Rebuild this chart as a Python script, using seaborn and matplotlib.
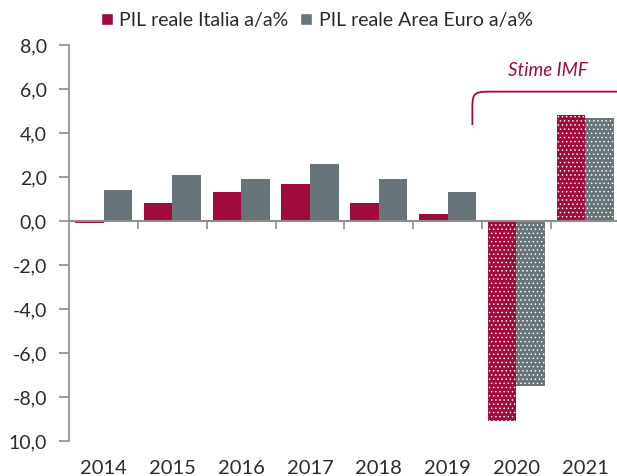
import matplotlib
matplotlib.use("Agg")
import matplotlib.pyplot as plt
from matplotlib.path import Path
from matplotlib.patches import PathPatch, Patch
import seaborn as sns
import pandas as pd

# ---- data ----
anni = ["2014", "2015", "2016", "2017", "2018", "2019", "2020", "2021"]
pil_italia = [-0.1, 0.8, 1.3, 1.7, 0.8, 0.3, -9.1, 4.8]
pil_euro = [1.4, 2.1, 1.9, 2.6, 1.9, 1.3, -7.5, 4.7]
serie = ["PIL reale Italia a/a%", "PIL reale Area Euro a/a%"]
anni_stima = ["2020", "2021"]
y_ticks = [8, 6, 4, 2, 0, -2, -4, -6, -8, -10]
y_tick_labels = ["8,0", "6,0", "4,0", "2,0", "0,0", "-2,0", "-4,0", "-6,0", "-8,0", "10,0"]
annotazione = "Stime IMF"

CRIMSON = "#A10A3C"
GRAY = "#67747A"
AXIS = "#8C8C8C"
TEXT = "#2B2B2B"

df = pd.DataFrame({
    "anno": anni * 2,
    "valore": pil_italia + pil_euro,
    "serie": [serie[0]] * len(anni) + [serie[1]] * len(anni),
})

sns.set_theme(style="white")
plt.rcParams["font.family"] = ["Lato", "DejaVu Sans"]
plt.rcParams["hatch.linewidth"] = 0.55

fig = plt.figure(figsize=(6.17, 4.76), dpi=100)
ax = fig.add_axes([69.2 / 617, 1 - 441 / 476, 550.4 / 617, 396 / 476])

sns.barplot(data=df, x="anno", y="valore", hue="serie", order=anni,
            hue_order=serie, palette=[CRIMSON, GRAY], width=0.83,
            saturation=1, legend=False, ax=ax)

for cont in ax.containers:
    for anno, bar in zip(anni, cont):
        bar.set_linewidth(0)
        if anno in anni_stima:
            bar.set_hatch("....")
            bar.set_edgecolor("white")

ax.set_xlim(-0.5, len(anni) - 0.5)
ax.set_ylim(-10, 8)

# y axis
ax.set_yticks(y_ticks)
ax.set_yticklabels(y_tick_labels)
ax.tick_params(axis="y", which="major", direction="out", length=7, width=1.2,
               color=AXIS, labelsize=14, labelcolor=TEXT, pad=9, left=True)
ax.spines["left"].set_color(AXIS)
ax.spines["left"].set_linewidth(1.2)
for s in ["top", "right"]:
    ax.spines[s].set_visible(False)

# x axis: spine at zero with boundary ticks
ax.spines["bottom"].set_position(("data", 0))
ax.spines["bottom"].set_color(AXIS)
ax.spines["bottom"].set_linewidth(1.5)
ax.set_xticks([i - 0.5 for i in range(1, len(anni))], minor=True)
ax.set_xticks(range(len(anni)))
ax.set_xticklabels([])
ax.tick_params(axis="x", which="major", length=0, bottom=False)
ax.tick_params(axis="x", which="minor", direction="out", length=6, width=1.2,
               color=AXIS, bottom=True)
ax.set_xlabel("")
ax.set_ylabel("")

sec = ax.secondary_xaxis(0.0)
sec.set_xticks(range(len(anni)))
sec.set_xticklabels(anni)
sec.tick_params(axis="x", length=0, labelsize=14.5, labelcolor=TEXT, pad=13.5)
sec.spines["bottom"].set_visible(False)

# bracket annotation "Stime IMF"
x0 = anni.index(anni_stima[0]) - 0.64
verts = [(x0, 4.36), (x0, 5.2), (x0, 5.88), (x0 + 0.05, 5.88), (x0 + 0.3, 5.88), (len(anni), 5.88)]
codes = [Path.MOVETO, Path.LINETO, Path.CURVE4, Path.CURVE4, Path.CURVE4, Path.LINETO]
ax.add_patch(PathPatch(Path(verts, codes), fill=False, edgecolor=CRIMSON,
                       linewidth=1.3, clip_on=False))
ax.text(anni.index(anni_stima[0]) + 0.46, 6.86, annotazione, color=CRIMSON,
        fontsize=13.5, fontstyle="italic", ha="center", va="center")

# legend
handles = [Patch(facecolor=CRIMSON), Patch(facecolor=GRAY)]
fig.legend(handles, serie, loc="upper left", bbox_to_anchor=(101 / 617, 1 - 12 / 476),
           ncol=2, frameon=False, fontsize=14, handlelength=0.6, handleheight=0.6,
           handletextpad=0.35, columnspacing=0.6, borderaxespad=0, borderpad=0,
           labelcolor=TEXT)

fig.savefig("out.png", dpi=100)
